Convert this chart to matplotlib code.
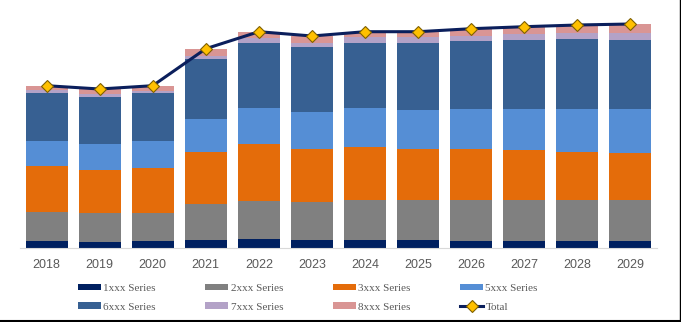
import matplotlib
matplotlib.use("Agg")
import matplotlib.pyplot as plt
import numpy as np
from matplotlib.lines import Line2D

years = ["2018", "2019", "2020", "2021", "2022", "2023",
         "2024", "2025", "2026", "2027", "2028", "2029"]

s1 = [6.7, 5.7, 6.7, 8.0, 8.7, 8.0, 8.0, 8.0, 7.3, 7.3, 7.3, 7.3]
s2 = [29.3, 29.0, 28.0, 35.7, 38.6, 38.3, 39.7, 39.7, 40.7, 40.7, 40.7, 40.7]
s3 = [46.3, 43.3, 45.6, 52.6, 56.4, 52.7, 53.6, 51.6, 51.3, 50.0, 48.3, 47.3]
s5 = [25.0, 26.0, 26.4, 32.7, 36.3, 37.3, 39.0, 38.4, 39.4, 41.3, 43.0, 43.4]
s6 = [48.0, 47.3, 48.0, 60.0, 65.3, 65.0, 65.0, 67.6, 68.0, 68.7, 69.7, 69.3]
s7 = [2.7, 2.7, 2.6, 3.0, 4.4, 4.0, 5.4, 5.4, 5.3, 5.7, 6.3, 6.7]
s8 = [4.3, 5.0, 5.0, 7.3, 6.6, 6.7, 5.6, 5.6, 7.3, 7.6, 7.7, 9.3]

names = ["1xxx Series", "2xxx Series", "3xxx Series", "5xxx Series",
         "6xxx Series", "7xxx Series", "8xxx Series"]
series = [s1, s2, s3, s5, s6, s7, s8]
colors = ["#002060", "#808080", "#E46C0A", "#558ED5",
          "#376092", "#B3A2C7", "#D99594"]

fig = plt.figure(figsize=(6.81, 3.22), dpi=100)
ax = fig.add_axes([20 / 681, 74 / 322, 637 / 681, 248 / 322])

x = np.arange(len(years))
bottom = np.zeros(len(years))
handles = []
for name, vals, c in zip(names, series, colors):
    b = ax.bar(x, vals, 0.79, bottom=bottom, color=c, label=name)
    bottom += np.array(vals)
    handles.append(b)

total, = ax.plot(x, bottom, color="#0B1F5C", lw=2.2, marker="D", ms=6.5,
                 mfc="#FFC000", mec="#7F6000", mew=0.8, label="Total", zorder=5)

ax.set_xlim(-0.5, 11.5)
ax.set_ylim(0, 248)
ax.set_xticks(x)
ax.set_xticklabels(years, fontsize=9, color="#595959", family="Liberation Sans")
ax.tick_params(axis="x", length=0, pad=8)
ax.set_yticks([])
for s in ["left", "right", "top"]:
    ax.spines[s].set_visible(False)
ax.spines["bottom"].set_color("#D9D9D9")

# legend: matplotlib fills columns first, so interleave to get row-major order
h = [handles[0], handles[4], handles[1], handles[5], handles[2], handles[6], handles[3], total]
labels = [names[0], names[4], names[1], names[5], names[2], names[6], names[3], "Total"]
leg = fig.legend(h, labels, ncol=4, loc="upper left", bbox_to_anchor=(72 / 681, 1 - 278 / 322),
                 frameon=False, prop={"family": "Liberation Serif", "size": 8},
                 handlelength=2.1, handleheight=0.55, handletextpad=0.2,
                 columnspacing=4.45, labelspacing=0.85, borderpad=0)
for t in leg.get_texts():
    t.set_color("#595959")

# frame edges on the right and bottom
fig.add_artist(Line2D([0, 1], [0.002, 0.002], color="black", lw=1.5, transform=fig.transFigure))
fig.add_artist(Line2D([0.999, 0.999], [0, 1], color="black", lw=1.0, transform=fig.transFigure))

fig.savefig("out.png", dpi=100)
